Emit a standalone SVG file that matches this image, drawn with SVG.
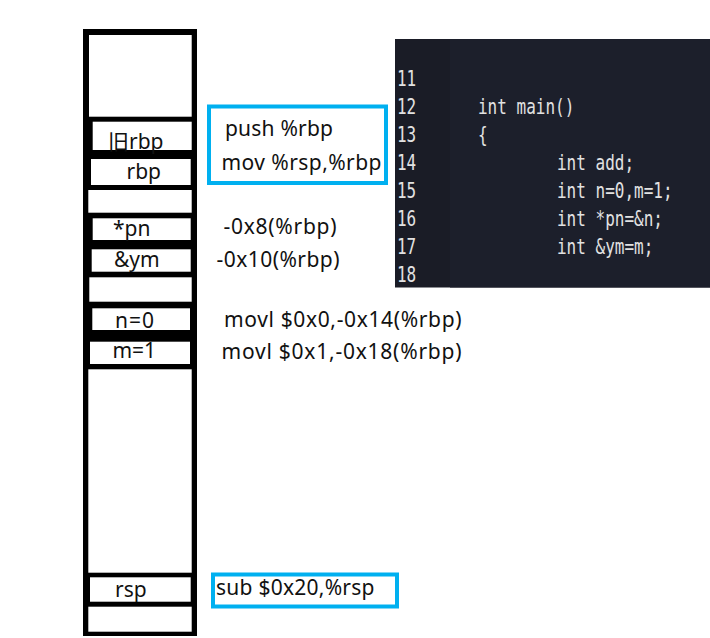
<svg xmlns="http://www.w3.org/2000/svg" width="710" height="638" viewBox="0 0 710 638">
<style>
.cell{fill:#fff}
.lbl{font-family:"Noto Sans","Noto Sans CJK SC",sans-serif;font-size:21px;fill:#111}
.asm{font-family:"Noto Sans","Noto Sans CJK SC",sans-serif;font-size:21px;fill:#111}
.box{fill:none;stroke:#00B0F0;stroke-width:4}
.code{font-family:"DejaVu Sans Mono",monospace;font-size:16px;fill:#e2e2e2}
</style>
<rect x="0" y="0" width="710" height="638" fill="#fff"/>
<g id="stack">
<rect x="83" y="29" width="114" height="607" fill="#000"/>
<g id="cell-top"><rect class="cell" x="89" y="35" width="102.7" height="81.7"/></g>
<g id="cell-oldrbp"><rect class="cell" x="92.7" y="121.7" width="99" height="28.3"/><text class="lbl" x="108" y="148.5">旧rbp</text></g>
<g id="cell-rbp"><rect class="cell" x="91" y="159" width="99.7" height="26"/><text class="lbl" x="126.5" y="178.5">rbp</text></g>
<g id="cell-empty1"><rect class="cell" x="88.3" y="190" width="103.4" height="22.7"/></g>
<g id="cell-pn"><rect class="cell" x="92.7" y="218.3" width="98" height="21.7"/><text class="lbl" x="113" y="235.5">*pn</text></g>
<g id="cell-ym"><rect class="cell" x="91.7" y="249.3" width="99" height="22.4"/><text class="lbl" x="114" y="266.5">&amp;ym</text></g>
<g id="cell-empty2"><rect class="cell" x="89.3" y="277.3" width="102.4" height="24.4"/></g>
<g id="cell-n"><rect class="cell" x="92.3" y="308.3" width="97.7" height="21.7"/><text class="lbl" x="115" y="328" textLength="39">n=0</text></g>
<g id="cell-m"><rect class="cell" x="90" y="341.7" width="100" height="22.3"/><text class="lbl" x="112.5" y="358" textLength="43.5">m=1</text></g>
<g id="cell-big"><rect class="cell" x="88.3" y="369.3" width="103.4" height="203.4"/></g>
<g id="cell-rsp"><rect class="cell" x="90" y="577.3" width="100.7" height="24.4"/><text class="lbl" x="115" y="597">rsp</text></g>
<g id="cell-bottom"><rect class="cell" x="88.3" y="606.7" width="103.4" height="25"/></g>
</g>
<g id="connectors"></g>
<g id="prologue">
<rect class="box" x="209" y="106.5" width="177" height="76.5"/>
<text class="asm" x="225" y="135.5" textLength="108">push %rbp</text>
<text class="asm" x="221.5" y="170" textLength="160">mov %rsp,%rbp</text>
</g>
<g id="off-pn"><text class="asm" x="223.5" y="234" textLength="113">-0x8(%rbp)</text></g>
<g id="off-ym"><text class="asm" x="216.5" y="267" textLength="123">-0x10(%rbp)</text></g>
<g id="movl-n"><text class="asm" x="224" y="327" textLength="237.5">movl $0x0,-0x14(%rbp)</text></g>
<g id="movl-m"><text class="asm" x="221.5" y="359" textLength="240">movl $0x1,-0x18(%rbp)</text></g>
<g id="sub">
<rect class="box" x="213" y="574.5" width="184" height="32"/>
<text class="asm" x="216" y="595" textLength="158.5">sub $0x20,%rsp</text>
</g>
<g id="code">
<rect x="395" y="39" width="315" height="248.5" fill="#1a1c26"/>
<rect x="450" y="39" width="260" height="248.5" fill="#1c1f2b"/>
<g transform="scale(1,1.3)">
<text class="code" x="397" y="66.5">11</text>
<text class="code" x="397" y="88">12</text>
<text class="code" x="397" y="109.5">13</text>
<text class="code" x="397" y="131">14</text>
<text class="code" x="397" y="152.5">15</text>
<text class="code" x="397" y="174">16</text>
<text class="code" x="397" y="195.5">17</text>
<text class="code" x="397" y="217">18</text>
<text class="code" x="478" y="88">int main()</text>
<text class="code" x="478" y="109.5">{</text>
<text class="code" x="557" y="131">int add;</text>
<text class="code" x="557" y="152.5">int n=0,m=1;</text>
<text class="code" x="557" y="174">int *pn=&amp;n;</text>
<text class="code" x="557" y="195.5">int &amp;ym=m;</text>
</g>
</g>
</svg>
